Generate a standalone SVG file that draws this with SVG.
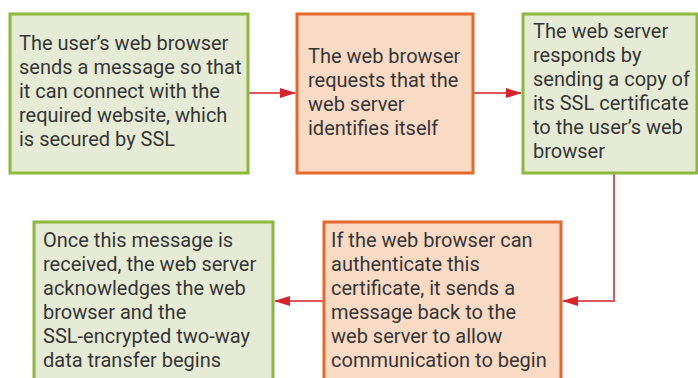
<svg xmlns="http://www.w3.org/2000/svg" width="698" height="378" viewBox="0 0 698 378">
<style>
.g{fill:#e5ebd4;stroke:#8cb83c;stroke-width:3}
.o{fill:#f9dac5;stroke:#e5692b;stroke-width:3}
.t{font-family:Roboto,"Open Sans",sans-serif;font-size:20px;fill:#363636}
.c{fill:none;stroke:#e0555c;stroke-width:2}
</style>
<defs>
<marker id="ah" markerWidth="16" markerHeight="10" refX="15" refY="5" orient="auto" markerUnits="userSpaceOnUse">
<path d="M0,0 L16,5 L0,10 Z" fill="#d8232d"/>
</marker>
</defs>
<rect width="698" height="378" fill="#ffffff"/>
<g id="connectors">
<path class="c" d="M248,93 H295" marker-end="url(#ah)"/>
<path class="c" d="M473,93 H521" marker-end="url(#ah)"/>
<path class="c" d="M614,173 V301 H563" marker-end="url(#ah)"/>
<path class="c" d="M323,301 H275" marker-end="url(#ah)"/>
</g>
<g id="n1">
<rect class="g" x="10" y="14" width="238" height="159"/>
<text class="t"><tspan x="19" y="50">The user’s web browser</tspan><tspan x="19" y="74">sends a message so that</tspan><tspan x="19" y="98">it can connect with the</tspan><tspan x="19" y="122">required website, which</tspan><tspan x="19" y="146">is secured by SSL</tspan></text>
</g>
<g id="n2">
<rect class="o" x="297" y="14" width="176" height="159"/>
<text class="t"><tspan x="308" y="63">The web browser</tspan><tspan x="308" y="87">requests that the</tspan><tspan x="308" y="111">web server</tspan><tspan x="308" y="135">identifies itself</tspan></text>
</g>
<g id="n3">
<rect class="g" x="523" y="14" width="174" height="159"/>
<text class="t"><tspan x="533" y="38">The web server</tspan><tspan x="533" y="62">responds by</tspan><tspan x="533" y="86">sending a copy of</tspan><tspan x="533" y="110">its SSL certificate</tspan><tspan x="533" y="134">to the user’s web</tspan><tspan x="533" y="158">browser</tspan></text>
</g>
<g id="n4">
<rect class="o" x="324" y="222" width="237" height="160"/>
<text class="t"><tspan x="331" y="247">If the web browser can</tspan><tspan x="331" y="271">authenticate this</tspan><tspan x="331" y="295">certificate, it sends a</tspan><tspan x="331" y="319">message back to the</tspan><tspan x="331" y="343">web server to allow</tspan><tspan x="331" y="367">communication to begin</tspan></text>
</g>
<g id="n5">
<rect class="g" x="34" y="222" width="239" height="160"/>
<text class="t"><tspan x="43" y="247">Once this message is</tspan><tspan x="43" y="271">received, the web server</tspan><tspan x="43" y="295">acknowledges the web</tspan><tspan x="43" y="319">browser and the</tspan><tspan x="43" y="343">SSL-encrypted two-way</tspan><tspan x="43" y="367">data transfer begins</tspan></text>
</g>
</svg>
